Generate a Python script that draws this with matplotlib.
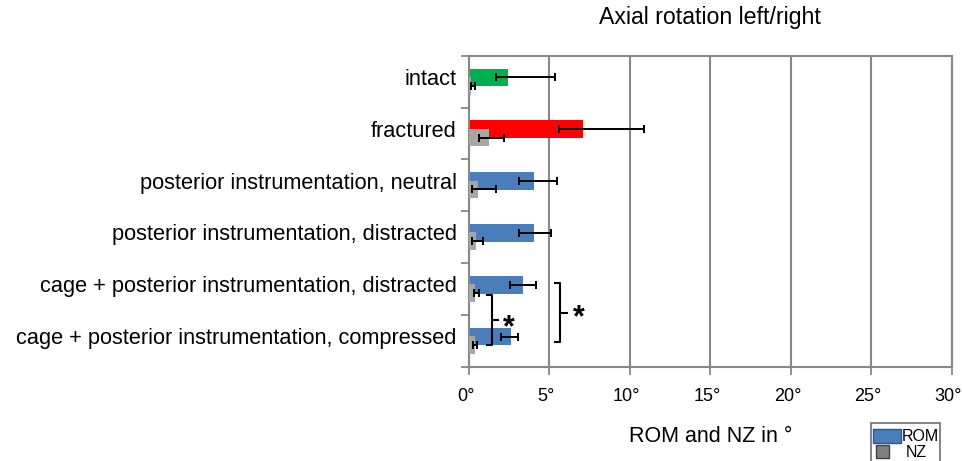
import matplotlib
matplotlib.use("Agg")
import matplotlib.pyplot as plt
from matplotlib.patches import Rectangle
from matplotlib.transforms import ScaledTranslation
import numpy as np

plt.rcParams['font.family'] = ['Liberation Sans', 'DejaVu Sans']

categories = ["intact", "fractured", "posterior instrumentation, neutral",
              "posterior instrumentation, distracted",
              "cage + posterior instrumentation, distracted",
              "cage + posterior instrumentation, compressed"]
rom = [2.4, 7.07, 4.07, 4.07, 3.38, 2.6]
rom_lo = [1.65, 5.58, 3.11, 3.11, 2.55, 1.99]
rom_hi = [5.35, 10.85, 5.48, 5.12, 4.15, 3.03]
nz = [0.12, 1.24, 0.58, 0.44, 0.35, 0.35]
nz_lo = [0.1, 0.64, 0.19, 0.19, 0.29, 0.27]
nz_hi = [0.37, 2.2, 1.66, 0.89, 0.64, 0.5]
rom_colors = ["#00b050", "#ff0000", "#4a7ebb", "#4a7ebb", "#4a7ebb", "#4a7ebb"]
nz_color = "#a6a6a6"
xticks = [0, 5, 10, 15, 20, 25, 30]

W, H = 963, 461
fig = plt.figure(figsize=(W / 100, H / 100), dpi=100)
ax = fig.add_axes([469 / W, 1 - 366.7 / H, (951.5 - 469) / W, (366.7 - 55.7) / H])

y = np.arange(len(categories))
h = 0.34
ax.barh(y - 0.08, rom, height=h, color=rom_colors, zorder=2)
ax.barh(y + 0.08, nz, height=h, color=nz_color, zorder=3)

rom_err = [np.array(rom) - np.array(rom_lo), np.array(rom_hi) - np.array(rom)]
nz_err = [np.array(nz) - np.array(nz_lo), np.array(nz_hi) - np.array(nz)]
ax.errorbar(rom, y - 0.08, xerr=rom_err, fmt='none', ecolor='black',
            elinewidth=1.4, capsize=2.9, capthick=1.4, zorder=4)
ax.errorbar(nz, y + 0.08, xerr=nz_err, fmt='none', ecolor='black',
            elinewidth=1.4, capsize=2.9, capthick=1.4, zorder=4)

ax.set_xlim(0, 30)
ax.set_ylim(len(categories) - 0.5, -0.5)
ax.set_xticks(xticks)
ax.set_xticklabels([])
# tick labels written by hand, a few px left of their ticks (as in the original)
lab_tr = ax.get_xaxis_transform() + ScaledTranslation(-3 / 100, -21 / 100, fig.dpi_scale_trans)
for v in xticks:
    ax.text(v, 0, f"{v}°", transform=lab_tr, fontsize=13, ha='center', va='top')
ax.set_yticks(y - 0.09)
ax.set_yticklabels(categories, fontsize=15.7)
ax.set_yticks(np.arange(-0.5, len(categories)), minor=True)
ax.tick_params(axis='y', which='major', length=0, pad=9)
ax.tick_params(axis='y', which='minor', length=6, width=1.3, color='#888888')
ax.tick_params(axis='x', length=6, width=1.3, color='#888888', pad=11)
ax.grid(axis='x', color='#888888', linewidth=1.5, zorder=0)
ax.set_axisbelow(True)
for s in ax.spines.values():
    s.set_color('#888888')
    s.set_linewidth(1.5)

ax.set_title("Axial rotation left/right", fontsize=16.7, pad=23)
ax.set_xlabel("ROM and NZ in °", fontsize=15.5, labelpad=26)

# significance brackets
def bracket(x, y0, y1, xl, xt, ym):
    ax.plot([xl, x, x, xl], [y0, y0, y1, y1], color='black', lw=1.5,
            zorder=5, clip_on=False)
    ax.plot([x, xt], [ym, ym], color='black', lw=1.5, zorder=5, clip_on=False)

bracket(1.43, 4.11, 5.09, 1.1, 1.8, 4.59)
ax.text(2.5, 4.75, "*", fontsize=22, fontweight='bold', ha='center',
        va='center', zorder=6)
bracket(5.66, 3.88, 5.02, 5.32, 6.12, 4.46)
ax.text(6.8, 4.56, "*", fontsize=22, fontweight='bold', ha='center',
        va='center', zorder=6)

# legend drawn as a box at the bottom right
def px(x0, y0, w, hh):
    return (x0 / W, 1 - (y0 + hh) / H), w / W, hh / H

fig.patches.append(Rectangle(*px(870.7, 422.7, 69.5, 45), transform=fig.transFigure,
                             facecolor='white', edgecolor='#6e6e6e', lw=1.2))
fig.patches.append(Rectangle(*px(873, 429, 28, 14), transform=fig.transFigure,
                             facecolor='#4a7ebb', edgecolor='#2f5597', lw=1))
fig.patches.append(Rectangle(*px(875.7, 445, 13, 13), transform=fig.transFigure,
                             facecolor='#808080', edgecolor='#404040', lw=1))
fig.text(902 / W, 1 - 436.5 / H, "ROM", fontsize=11.5, va='center')
fig.text(906 / W, 1 - 452 / H, "NZ", fontsize=11.5, va='center')

fig.savefig("out.png", dpi=100)
